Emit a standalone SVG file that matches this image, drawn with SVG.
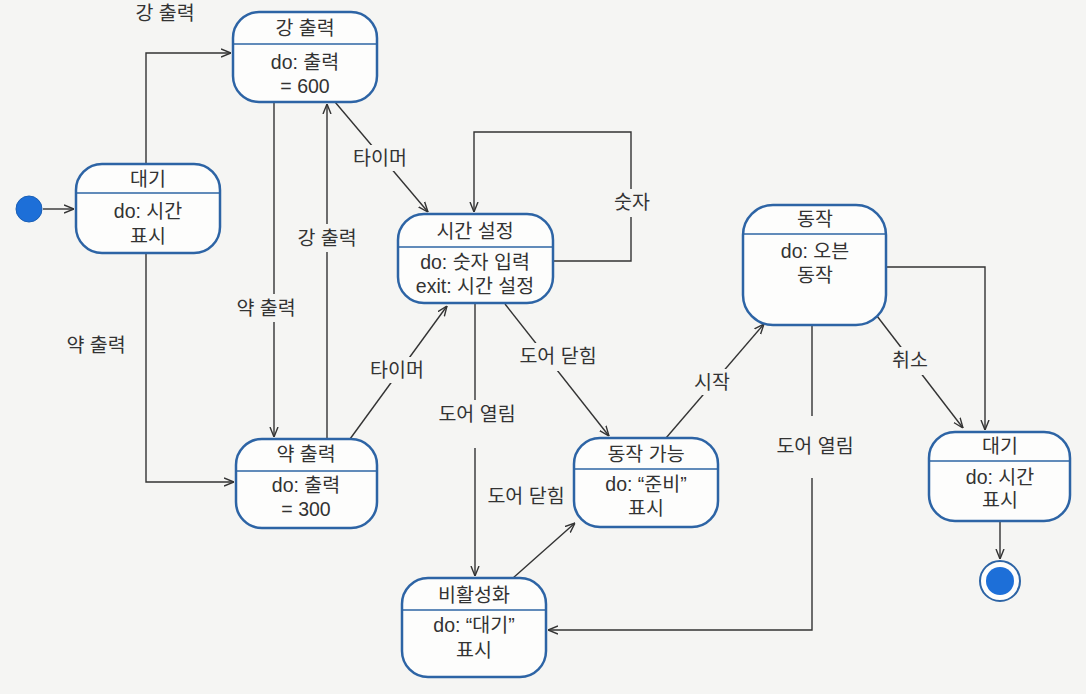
<svg xmlns="http://www.w3.org/2000/svg" width="1086" height="694" viewBox="0 0 1086 694">
<defs>
<marker id="arr" viewBox="0 0 10 10" refX="10" refY="5" markerWidth="10" markerHeight="10" markerUnits="userSpaceOnUse" orient="auto">
<path d="M0,1 L10,5 L0,9" fill="none" stroke="#333" stroke-width="1.4"/>
</marker>
<style>
.st{fill:#fdfdfc;stroke:#2d64a5;stroke-width:2.5}
.dv{stroke:#2d64a5;stroke-width:1.5}
.t{font-family:"Liberation Sans","Noto Sans CJK KR",sans-serif;font-size:19.5px;fill:#333;text-anchor:middle}
.c{fill:none;stroke:#333;stroke-width:1.4}
.lb{fill:#f5f5f3}
</style>
</defs>
<rect width="1086" height="694" fill="#f5f5f3"/>

<g id="connectors">
<line class="c" x1="43" y1="209" x2="74" y2="209" marker-end="url(#arr)"/>
<polyline class="c" points="146,163 146,53 231,53" marker-end="url(#arr)"/>
<polyline class="c" points="146,253 146,482 234,482" marker-end="url(#arr)"/>
<line class="c" x1="274" y1="102" x2="274" y2="437" marker-end="url(#arr)"/>
<line class="c" x1="327" y1="439" x2="327" y2="104" marker-end="url(#arr)"/>
<line class="c" x1="335" y1="102" x2="428" y2="212" marker-end="url(#arr)"/>
<line class="c" x1="350" y1="439" x2="447" y2="306" marker-end="url(#arr)"/>
<polyline class="c" points="553,261 631,261 631,132 474,132 474,212" marker-end="url(#arr)"/>
<line class="c" x1="505" y1="304" x2="609" y2="436" marker-end="url(#arr)"/>
<line class="c" x1="475" y1="304" x2="475" y2="576" marker-end="url(#arr)"/>
<line class="c" x1="513" y1="578" x2="575" y2="523" marker-end="url(#arr)"/>
<line class="c" x1="666" y1="438" x2="764" y2="324" marker-end="url(#arr)"/>
<polyline class="c" points="886,267 985,267 985,430" marker-end="url(#arr)"/>
<line class="c" x1="877" y1="316" x2="963" y2="428" marker-end="url(#arr)"/>
<polyline class="c" points="812,325 812,630 548,630" marker-end="url(#arr)"/>
<line class="c" x1="1000" y1="521" x2="1000" y2="559" marker-end="url(#arr)"/>
<!-- labels -->
<text class="t" x="165" y="20">강 출력</text>
<rect class="lb" x="58" y="333" width="76" height="26"/>
<text class="t" x="96" y="352">약 출력</text>
<rect class="lb" x="230" y="294" width="76" height="28"/>
<text class="t" x="266" y="315">약 출력</text>
<rect class="lb" x="288" y="224" width="78" height="28"/>
<text class="t" x="327" y="245">강 출력</text>
<rect class="lb" x="348" y="145" width="64" height="26"/>
<text class="t" x="380" y="165">타이머</text>
<rect class="lb" x="364" y="357" width="66" height="26"/>
<text class="t" x="397" y="377">타이머</text>
<rect class="lb" x="606" y="189" width="52" height="28"/>
<text class="t" x="632" y="209">숫자</text>
<rect class="lb" x="510" y="343" width="96" height="28"/>
<text class="t" x="558" y="363">도어 닫힘</text>
<rect class="lb" x="428" y="400" width="98" height="48"/>
<text class="t" x="477" y="421">도어 열림</text>
<text class="t" x="526" y="503">도어 닫힘</text>
<rect class="lb" x="688" y="369" width="50" height="26"/>
<text class="t" x="712" y="389">시작</text>
<rect class="lb" x="886" y="347" width="50" height="28"/>
<text class="t" x="910" y="367">취소</text>
<rect class="lb" x="766" y="416" width="98" height="62"/>
<text class="t" x="815" y="453">도어 열림</text>
</g>

<g id="initial"><circle cx="29" cy="209" r="13" fill="#1d6fd8" stroke="#1a5fb5" stroke-width="1"/></g>

<g id="strong">
<rect class="st" x="233" y="12" width="144" height="90" rx="26"/>
<line class="dv" x1="233" y1="44" x2="377" y2="44"/>
<text class="t" x="305" y="35">강 출력</text>
<text class="t" x="305" y="69">do: 출력</text>
<text class="t" x="305" y="93">= 600</text>
</g>

<g id="idle1">
<rect class="st" x="76" y="164" width="144" height="89" rx="26"/>
<line class="dv" x1="76" y1="193" x2="220" y2="193"/>
<text class="t" x="148" y="186">대기</text>
<text class="t" x="148" y="218">do: 시간</text>
<text class="t" x="148" y="243">표시</text>
</g>

<g id="weak">
<rect class="st" x="236" y="439" width="141" height="89" rx="26"/>
<line class="dv" x1="236" y1="471" x2="377" y2="471"/>
<text class="t" x="306" y="461">약 출력</text>
<text class="t" x="306" y="492">do: 출력</text>
<text class="t" x="306" y="516">= 300</text>
</g>

<g id="settime">
<rect class="st" x="398" y="214" width="155" height="89" rx="26"/>
<line class="dv" x1="398" y1="247" x2="553" y2="247"/>
<text class="t" x="475" y="238">시간 설정</text>
<text class="t" x="475" y="269">do: 숫자 입력</text>
<text class="t" x="475" y="293">exit: 시간 설정</text>
</g>

<g id="ready">
<rect class="st" x="574" y="438" width="144" height="89" rx="26"/>
<line class="dv" x1="574" y1="469" x2="718" y2="469"/>
<text class="t" x="646" y="461">동작 가능</text>
<text class="t" x="646" y="491">do: “준비”</text>
<text class="t" x="646" y="515">표시</text>
</g>

<g id="inactive">
<rect class="st" x="402" y="578" width="144" height="99" rx="26"/>
<line class="dv" x1="402" y1="610" x2="546" y2="610"/>
<text class="t" x="474" y="602">비활성화</text>
<text class="t" x="474" y="632">do: “대기”</text>
<text class="t" x="474" y="657">표시</text>
</g>

<g id="run">
<rect class="st" x="743" y="205" width="143" height="120" rx="30"/>
<line class="dv" x1="743" y1="234" x2="886" y2="234"/>
<text class="t" x="815" y="226">동작</text>
<text class="t" x="815" y="258">do: 오븐</text>
<text class="t" x="815" y="282">동작</text>
</g>

<g id="idle2">
<rect class="st" x="929" y="432" width="141" height="89" rx="26"/>
<line class="dv" x1="929" y1="461" x2="1070" y2="461"/>
<text class="t" x="1000" y="453">대기</text>
<text class="t" x="1000" y="484">do: 시간</text>
<text class="t" x="1000" y="507">표시</text>
</g>

<g id="final">
<circle cx="1000" cy="581" r="20" fill="#fdfdfc" stroke="#2d64a5" stroke-width="2"/>
<circle cx="1000" cy="581" r="14" fill="#1d6fd8"/>
</g>
</svg>
